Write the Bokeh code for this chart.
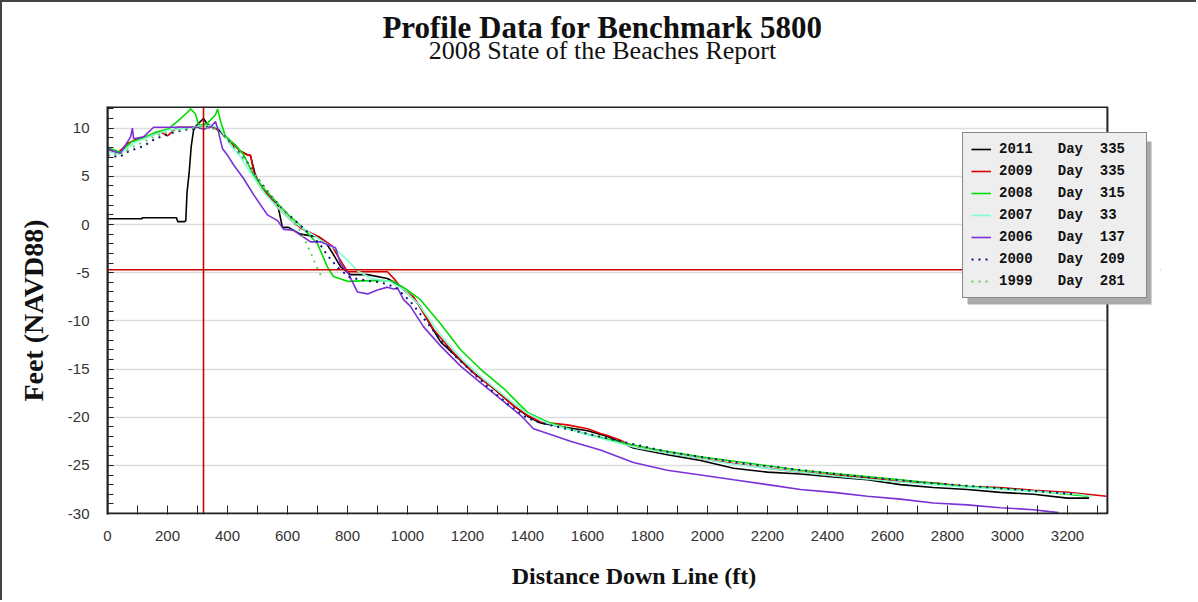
from bokeh.plotting import figure
from bokeh.layouts import column
from bokeh.models import (Span, Legend, LegendItem, BoxAnnotation, Label,
                          FixedTicker, SingleIntervalTicker, Range1d, PrintfTickFormatter)
from bokeh.embed import file_html
from bokeh.resources import INLINE

# ---------------- data ----------------
x_2011 = [0, 115, 116, 230, 234, 257, 261, 265, 272, 279, 287, 294, 320, 333, 348, 370, 394, 424, 443, 477, 493, 516, 533, 567, 583, 603, 643, 703, 726, 749, 777, 810, 867, 933, 967, 1010, 1043, 1077, 1111, 1153, 1220, 1287, 1353, 1400, 1443, 1515, 1600, 1667, 1753, 1866, 1977, 2087, 2200, 2310, 2420, 2533, 2643, 2753, 2866, 2976, 3087, 3200, 3272]
y_2011 = [0.6, 0.6, 0.7, 0.7, 0.3, 0.3, 0.4, 3.3, 5.3, 8.1, 9.8, 10.2, 11.0, 10.4, 10.2, 9.9, 9.0, 8.3, 7.6, 7.1, 5.1, 3.6, 3.3, 2.1, -0.3, -0.3, -1.0, -1.3, -1.8, -2.9, -4.4, -5.2, -5.2, -5.6, -6.2, -7.4, -8.5, -10.5, -12.2, -13.4, -15.4, -17.0, -18.8, -19.9, -20.6, -21.0, -21.4, -22.0, -23.2, -23.9, -24.5, -25.3, -25.7, -25.9, -26.2, -26.5, -27.0, -27.3, -27.5, -27.8, -28.0, -28.4, -28.4]

x_2009 = [0, 33, 67, 100, 143, 177, 200, 233, 277, 310, 332, 354, 384, 414, 444, 467, 477, 487, 505, 535, 566, 606, 646, 707, 747, 778, 800, 869, 933, 960, 977, 1020, 1087, 1153, 1220, 1287, 1353, 1400, 1443, 1533, 1600, 1643, 1667, 1710, 1753, 1866, 1977, 2087, 2200, 2310, 2420, 2533, 2643, 2753, 2866, 2976, 3087, 3200, 3266, 3330]
y_2009 = [7.8, 7.4, 8.4, 8.9, 9.2, 9.6, 9.2, 10.1, 10.1, 10.2, 10.3, 10.1, 9.5, 8.4, 7.6, 7.2, 7.2, 5.5, 4.2, 3.0, 1.8, 0.6, -0.4, -1.3, -2.2, -3.8, -4.9, -4.9, -4.9, -5.8, -6.5, -7.5, -10.9, -13.3, -15.4, -17.0, -18.8, -19.8, -20.5, -20.8, -21.2, -21.7, -21.9, -22.4, -23.1, -23.7, -24.3, -24.8, -25.3, -25.7, -26.0, -26.3, -26.7, -26.8, -27.2, -27.3, -27.6, -27.8, -28.0, -28.2]

x_2008 = [0, 43, 81, 121, 162, 202, 233, 265, 277, 293, 303, 310, 333, 360, 367, 377, 393, 424, 455, 485, 525, 566, 606, 646, 700, 733, 753, 800, 900, 953, 1000, 1043, 1110, 1177, 1243, 1320, 1400, 1467, 1577, 1710, 1818, 1977, 2121, 2310, 2475, 2643, 2828, 2976, 3131, 3270]
y_2008 = [8.0, 7.5, 8.6, 9.0, 9.6, 9.9, 10.7, 11.6, 12.0, 11.5, 10.4, 10.3, 10.5, 11.4, 12.0, 10.7, 9.2, 8.3, 7.2, 5.2, 3.6, 2.2, 0.9, -0.2, -2.0, -4.4, -5.4, -5.9, -5.8, -5.9, -6.8, -7.8, -10.3, -13.0, -15.0, -17.0, -19.5, -20.5, -21.6, -22.6, -23.3, -24.1, -24.7, -25.5, -26.0, -26.5, -27.1, -27.4, -27.8, -28.2]

x_2007 = [0, 40, 91, 152, 202, 263, 303, 343, 374, 404, 444, 485, 525, 566, 606, 657, 710, 758, 800, 833, 879, 939, 990, 1040, 1111, 1182, 1252, 1323, 1394, 1465, 1566, 1667, 1768, 1919, 2071, 2222, 2424, 2626, 2828, 3030, 3232, 3280]
y_2007 = [7.6, 7.3, 8.5, 9.3, 9.8, 10.0, 10.2, 10.3, 10.0, 8.5, 7.0, 5.0, 3.2, 1.8, 0.6, -0.5, -1.6, -2.5, -3.7, -4.8, -5.6, -5.9, -6.8, -8.4, -11.5, -14.0, -16.0, -17.8, -19.5, -20.6, -21.5, -22.4, -23.2, -24.0, -24.8, -25.4, -26.1, -26.7, -27.2, -27.6, -28.0, -28.2]

x_2006 = [0, 20, 43, 77, 83, 87, 120, 154, 170, 220, 267, 300, 320, 343, 360, 367, 383, 400, 420, 453, 487, 533, 567, 587, 620, 677, 710, 760, 777, 803, 833, 867, 900, 933, 953, 967, 987, 1010, 1053, 1110, 1177, 1243, 1310, 1377, 1420, 1487, 1543, 1577, 1643, 1753, 1866, 1977, 2087, 2200, 2310, 2420, 2533, 2643, 2753, 2866, 2976, 3087, 3140, 3170]
y_2006 = [7.9, 7.6, 7.4, 9.1, 10.0, 8.9, 9.1, 10.1, 10.1, 10.1, 10.1, 10.1, 9.9, 10.1, 10.7, 10.0, 7.9, 7.2, 6.2, 4.8, 3.1, 1.0, 0.4, -0.5, -0.6, -1.8, -1.8, -2.4, -4.1, -5.1, -7.0, -7.2, -6.8, -6.5, -6.7, -6.6, -7.8, -8.5, -10.6, -12.6, -14.7, -16.4, -18.1, -19.8, -21.2, -21.9, -22.5, -22.8, -23.4, -24.7, -25.5, -26.0, -26.5, -27.0, -27.5, -27.8, -28.2, -28.5, -28.9, -29.1, -29.4, -29.6, -29.8, -29.9]

x_2000 = [0, 40, 70, 117, 160, 203, 253, 303, 343, 384, 424, 465, 505, 545, 586, 626, 667, 707, 733, 768, 808, 859, 909, 960, 1010, 1061, 1111, 1160, 1212, 1273, 1333, 1394, 1444, 1515, 1667, 1869, 2121, 2424, 2727, 3030, 3232]
y_2000 = [7.2, 7.0, 7.6, 8.1, 8.9, 9.4, 9.8, 10.0, 10.2, 9.4, 8.0, 6.5, 4.6, 3.0, 1.5, 0.4, -0.8, -2.0, -3.2, -4.5, -5.5, -5.8, -6.0, -6.5, -8.0, -10.0, -12.0, -13.7, -15.2, -17.0, -18.6, -20.0, -20.6, -21.1, -22.2, -23.6, -24.8, -25.9, -26.8, -27.5, -28.0]

x_1999 = [0, 40, 81, 121, 162, 202, 253, 303, 354, 404, 455, 505, 556, 606, 646, 677, 693, 716]
y_1999 = [7.5, 7.2, 8.0, 8.6, 9.2, 9.6, 9.9, 10.1, 10.0, 8.8, 6.8, 4.6, 2.6, 0.8, -0.8, -2.9, -4.1, -5.6]

years = ["2011", "2009", "2008", "2007", "2006", "2000", "1999"]
days = ["335", "335", "315", "33", "137", "209", "281"]
colors = ["#000000", "#dd0000", "#00dd00", "#80ffd0", "#7b30d8", "#101080", "#66cc66"]
dashes = ["solid", "solid", "solid", "solid", "solid", "2 5", "2 5"]
xs = [x_2011, x_2009, x_2008, x_2007, x_2006, x_2000, x_1999]
ys = [y_2011, y_2009, y_2008, y_2007, y_2006, y_2000, y_1999]

x_ticks = [0, 200, 400, 600, 800, 1000, 1200, 1400, 1600, 1800, 2000, 2200, 2400, 2600, 2800, 3000, 3200]
x_minor = [100, 300, 500, 700, 900, 1100, 1300, 1500, 1700, 1900, 2100, 2300, 2500, 2700, 2900, 3100, 3300]

cross_x = 320
cross_y = -4.7

x_min, x_max = 0, 3333        # plotted data box
y_min, y_max = -30, 12.2
x_view = 3510                 # frame extends right so the legend can overhang the box

title_text = "Profile Data for Benchmark 5800"
subtitle_text = "2008 State of the Beaches Report"

serif = "Liberation Serif"
tick_font = "Liberation Sans"

W = 1196
BL, BR = 105, 38

# ---------------- heading ----------------
head = figure(width=W, height=106, output_backend="svg", toolbar_location=None,
              x_range=Range1d(0, x_view), y_range=Range1d(0, 106),
              min_border_left=BL, min_border_right=BR, min_border_top=0,
              min_border_bottom=0, x_axis_location=None, y_axis_location=None)
head.styles = {"border-top": "2px solid #444", "border-left": "2px solid #444"}
head.outline_line_color = None
head.grid.visible = False
head.background_fill_color = "white"
head.border_fill_color = "white"
head.add_layout(Label(x=1650, y=81, text=title_text, text_font=serif,
                      text_font_style="bold", text_font_size="31px",
                      text_align="center", text_baseline="middle", text_color="#111111"))
head.add_layout(Label(x=1650, y=58, text=subtitle_text, text_font=serif,
                      text_font_style="normal", text_font_size="26px",
                      text_align="center", text_baseline="middle", text_color="#111111"))

# ---------------- main figure ----------------
p = figure(width=W, height=494, output_backend="svg", toolbar_location=None,
           x_range=Range1d(0, x_view), y_range=Range1d(-30.1, 12.25),
           min_border_left=BL, min_border_right=BR, min_border_top=0,
           min_border_bottom=86)
p.styles = {"border-left": "2px solid #444"}
p.background_fill_color = "white"
p.border_fill_color = "white"
p.outline_line_color = None

for ax in (p.xaxis[0], p.yaxis[0]):
    ax.major_tick_line_color = "#222222"
    ax.minor_tick_line_color = "#222222"
    ax.major_tick_out = 0
    ax.minor_tick_out = 0
    ax.major_label_text_font = tick_font
    ax.major_label_text_font_size = "15px"
    ax.major_label_text_color = "#333333"
    ax.axis_label_text_font = serif
    ax.axis_label_text_font_style = "bold"
    ax.axis_label_text_color = "#111111"

p.xaxis.axis_line_color = None
p.yaxis.axis_line_color = "#222222"
p.yaxis.axis_line_width = 2

p.xaxis.ticker = FixedTicker(ticks=x_ticks, minor_ticks=x_minor)
p.yaxis.ticker = SingleIntervalTicker(interval=5, num_minor_ticks=5)
p.yaxis.formatter = PrintfTickFormatter(format="%d")
p.xaxis.major_tick_in = 9
p.xaxis.minor_tick_in = 9
p.yaxis.major_tick_in = 6
p.yaxis.minor_tick_in = 6
p.xaxis.major_label_standoff = 16
p.yaxis.major_label_standoff = 18
p.xaxis.axis_label = "Distance Down Line (ft)"
p.yaxis.axis_label = "Feet (NAVD88)"
p.xaxis.axis_label_text_font_size = "24px"
p.yaxis.axis_label_text_font_size = "28px"
p.xaxis.axis_label_standoff = 19
p.yaxis.axis_label_standoff = 16

p.xgrid.grid_line_color = None
p.ygrid.grid_line_color = "#dddddd"
p.ygrid.grid_line_width = 1.5

renderers = []
for x, y, c, d in zip(xs, ys, colors, dashes):
    if d == "solid":
        r = p.line(x, y, line_color=c, line_width=1.6)
    else:
        r = p.line(x, y, line_color=c, line_width=2, line_dash=d)
    renderers.append(r)

p.add_layout(Span(location=cross_x, dimension="height", line_color="#cc0000", line_width=1.6))
p.add_layout(Span(location=cross_y, dimension="width", line_color="#cc0000", line_width=1.6))

# white area right of the data box, then the data box border
p.add_layout(BoxAnnotation(left=x_max, fill_color="white", fill_alpha=1.0,
                           line_alpha=0))
p.add_layout(BoxAnnotation(left=x_min, right=x_max, bottom=y_min, top=y_max,
                           fill_alpha=0, line_color="#222222", line_alpha=1.0,
                           line_width=2))

# legend shadow
p.add_layout(BoxAnnotation(left=860, right=1044, bottom=210, top=373,
                           left_units="screen", right_units="screen",
                           bottom_units="screen", top_units="screen",
                           fill_color="#aaaaaa", fill_alpha=1.0, line_alpha=0))

items = [LegendItem(label=f"{yr}   Day  {dy}", renderers=[r])
         for yr, dy, r in zip(years, days, renderers)]
legend = Legend(items=items, location=(855, 216), orientation="vertical",
                background_fill_color="#eeeeee", background_fill_alpha=1.0,
                border_line_color="#222222", border_line_width=1.5,
                label_text_font="Liberation Mono", label_text_font_style="bold",
                label_text_font_size="14px", label_text_color="#111111",
                glyph_width=20, glyph_height=16, label_height=16, label_width=139,
                label_standoff=8, spacing=6, padding=8, margin=0)
p.add_layout(legend)

layout = column(head, p, spacing=0)
open("out.html", "w").write(file_html(layout, INLINE))
